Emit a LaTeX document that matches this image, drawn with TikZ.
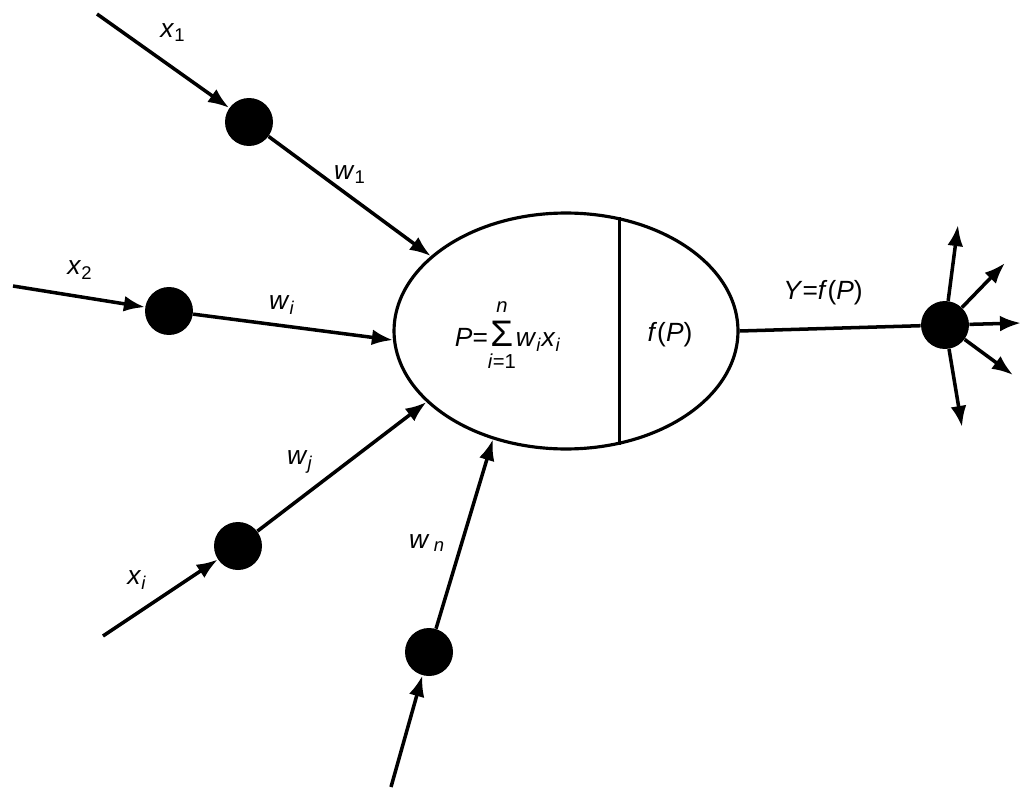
\documentclass[tikz,border=0pt]{standalone}
\usepackage{fontspec}
\setmainfont{Liberation Sans}
\usetikzlibrary{arrows.meta,shapes.geometric,calc}

\begin{document}
\begin{tikzpicture}[x=0.02cm, y=-0.02cm,
  neuron/.style={ellipse, draw, line width=1.8pt, minimum width=6.88cm,
                 minimum height=4.72cm, inner sep=0pt},
  wdot/.style={circle, fill=black, minimum size=0.96cm, inner sep=0pt},
  warr/.style={-{Latex[length=12pt,width=9pt]}, line width=2pt},
  lbl/.style={font=\fontsize{15}{18}\selectfont, inner sep=0pt}
]
\useasboundingbox (0,0) rectangle (1023,787);

% Neuron body
\node[neuron] (cell) at (566,331) {};
\draw[line width=1.8pt] (cell.65) -- (cell.-65);
\node[lbl] (sum) at (508,335) {\textit{P}=$\mathop{\mbox{\fontsize{21}{21}\selectfont Σ}}\limits_{\mbox{\rule{0pt}{11pt}\fontsize{11.5}{12}\selectfont\textit{i}=1}}^{\mbox{\rule[-4pt]{0pt}{0pt}\fontsize{11.5}{12}\selectfont\textit{n}}}$\textit{w}\textsubscript{\textit{i}}\textit{x}\textsubscript{\textit{i}}};
\node[lbl] (act) at (670,335) {\textit{f}(\textit{P})};

% Weight dots
\node[wdot] (d1)   at (249,122) {};
\node[wdot] (d2)   at (169,311) {};
\node[wdot] (dj)   at (238,546) {};
\node[wdot] (dn)   at (429,652) {};
\node[wdot] (dout) at (945,325) {};

% Free ends of the inputs and outputs
\coordinate (in1) at (97,14);
\coordinate (in2) at (13,286);
\coordinate (inj) at (103,636);
\coordinate (inn) at (391,787);
\coordinate (o1) at (958,225);
\coordinate (o2) at (1005,263);
\coordinate (o3) at (1021,323);
\coordinate (o4) at (1013,375);
\coordinate (o5) at (962,427);

% Inputs
\draw[warr] (in1) -- (d1);
\draw[warr] (in2) -- (d2);
\draw[warr] (inj) -- (dj);
\draw[warr] (inn) -- (dn);

% Weighted links
\draw[warr] (d1) -- (cell.151);
\draw[warr] (d2) -- (cell.183);
\draw[warr] (dj) -- (cell.207);
\draw[warr] (dn) -- (cell.236);

% Output
\draw[line width=2pt] (cell.east) -- (dout);
\foreach \o in {o1,o2,o3,o4,o5}
  \draw[warr] (dout) -- (\o);

% Labels
\node[lbl] (lx1) at (173,33)  {\textit{x}\textsubscript{1}};
\node[lbl] (lw1) at (350,175) {\textit{w}\textsubscript{1}};
\node[lbl] (lx2) at (80,270)  {\textit{x}\textsubscript{2}};
\node[lbl] (lwi) at (282,305) {\textit{w}\textsubscript{\textit{i}}};
\node[lbl] (lwj) at (300,462) {\textit{w}\textsubscript{\textit{j}}};
\node[lbl] (lxi) at (137,580) {\textit{x}\textsubscript{\textit{i}}};
\node[lbl] (lwn) at (427,543) {\textit{w}\,\textsubscript{\textit{n}}};
\node[lbl] (ly)  at (823,293) {\textit{Y}=\textit{f}(\textit{P})};
\end{tikzpicture}
\end{document}
